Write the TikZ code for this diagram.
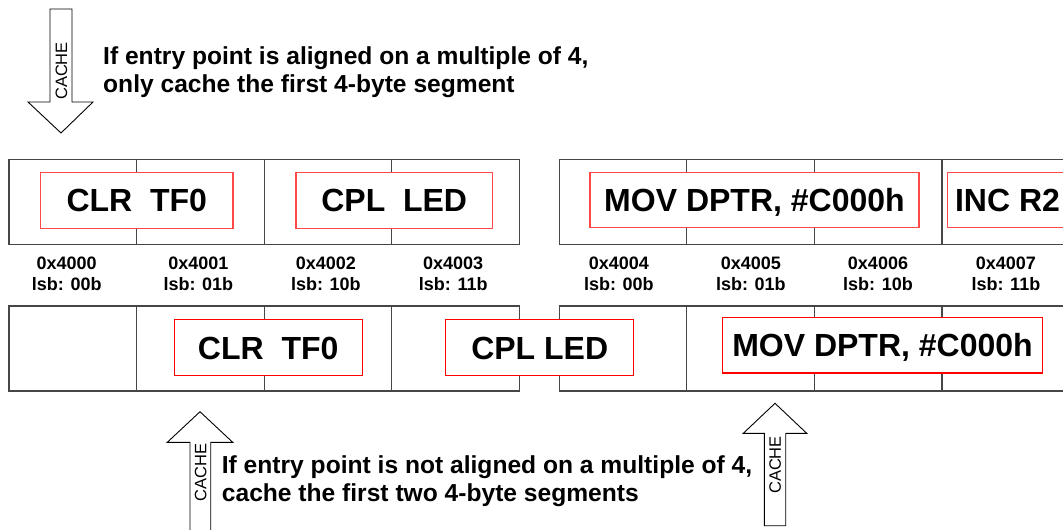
\documentclass[tikz,border=0pt]{standalone}
\usepackage{fontspec}
\setmainfont{Liberation Sans}
\begin{document}
\begin{tikzpicture}[x=1pt,y=-1pt,
  cell/.style={draw=cellgray, line width=1.2pt, minimum width=127.6pt,
    minimum height=85pt, inner sep=0pt, anchor=north west},
  instr/.style={line width=1.2pt, fill=white, inner sep=0pt, text height=23pt, text depth=0pt,
    font=\fontsize{32}{38}\selectfont\bfseries},
  instrtop/.style={instr, draw=lightred},
  instrbot/.style={instr, draw=purered},
  addr/.style={inner sep=0pt, anchor=north, align=center,
    font=\fontsize{18}{21}\selectfont\bfseries},
  note/.style={inner sep=0pt, anchor=north west, align=left,
    font=\fontsize{24.6}{28}\selectfont\bfseries},
  blockarrow/.style={draw=black, line width=0.9pt, fill=white, line join=miter},
  arrowtext/.style={inner sep=0pt, rotate=90, font=\fontsize{16.5}{18}\selectfont}
]
\definecolor{cellgray}{RGB}{70,70,70}
\definecolor{lightred}{RGB}{255,72,72}
\definecolor{purered}{RGB}{255,0,0}

\useasboundingbox[fill=white] (0,0) rectangle (1063,530);

% memory cells: upper row (aligned) and lower row (unaligned)
\foreach \i/\x in {1/8.3,2/135.9,3/263.5,4/391.1,5/558.6,6/686.2,7/813.8,8/941.4}{
  \node[cell] (t\i) at (\x,158.6) {};
  \node[cell] (b\i) at (\x,305.3) {};
}

% instructions in the upper row
\node[instrtop, minimum width=192.4pt, minimum height=56pt] (tclr) at (136.8,200.4) {CLR\ \ TF0};
\node[instrtop, minimum width=196.4pt, minimum height=56pt] (tcpl) at (394.2,200.4) {CPL\ \ LED};
\node[instrtop, minimum width=329pt, minimum height=55pt] (tmov) at (754.5,200) {MOV DPTR, \#C000h};
\node[instrtop, minimum width=119.6pt, minimum height=55pt] (tinc) at (1007.5,200) {INC R2};

% instructions in the lower row
\node[instrbot, minimum width=188.1pt, minimum height=56pt] (bclr) at (268.2,347.8) {CLR\ \ TF0};
\node[instrbot, minimum width=188.1pt, minimum height=56pt] (bcpl) at (539.7,347.8) {CPL LED};
\node[instrbot, minimum width=319.5pt, minimum height=55.4pt] (bmov) at (882.5,345.3) {MOV DPTR, \#C000h};

% byte addresses
\foreach \n/\x/\a/\l in {1/66.7/0x4000/00b,2/198.4/0x4001/01b,3/325.9/0x4002/10b,4/453.2/0x4003/11b,
                         5/618.9/0x4004/00b,6/750.9/0x4005/01b,7/878.0/0x4006/10b,8/1005.9/0x4007/11b}{
  \node[addr] (a\n) at (\x,257.2) {\a\\lsb: \l};
}

% cache arrow for the aligned entry point
\draw[blockarrow] (50,9) -- (72,9) -- (72,102) -- (93,102) -- (61,133)
  -- (28,102) -- (50,102) -- cycle;
\node[arrowtext] (cachetop) at (61.5,71) {CACHE};
\node[note] (notetop) at (103,46)
  {If entry point is aligned on a multiple of 4,\\only cache the first 4-byte segment};

% cache arrows for the unaligned entry point
\draw[blockarrow] (190,540) -- (190,442.3) -- (167.3,442.3) -- (200,411.7)
  -- (232.7,442.3) -- (210.7,442.3) -- (210.7,540);
\node[arrowtext] (cacheleft) at (200.8,472.5) {CACHE};
\draw[blockarrow] (764.3,525.7) -- (764.3,433.3) -- (743.3,433.3) -- (775,403.3)
  -- (806.7,433.3) -- (785.7,433.3) -- (785.7,525.7) -- cycle;
\node[arrowtext] (cacheright) at (775.3,465) {CACHE};
\node[note] (notebot) at (221.7,455.5)
  {If entry point is not aligned on a multiple of 4,\\cache the first two 4-byte segments};
\end{tikzpicture}
\end{document}
